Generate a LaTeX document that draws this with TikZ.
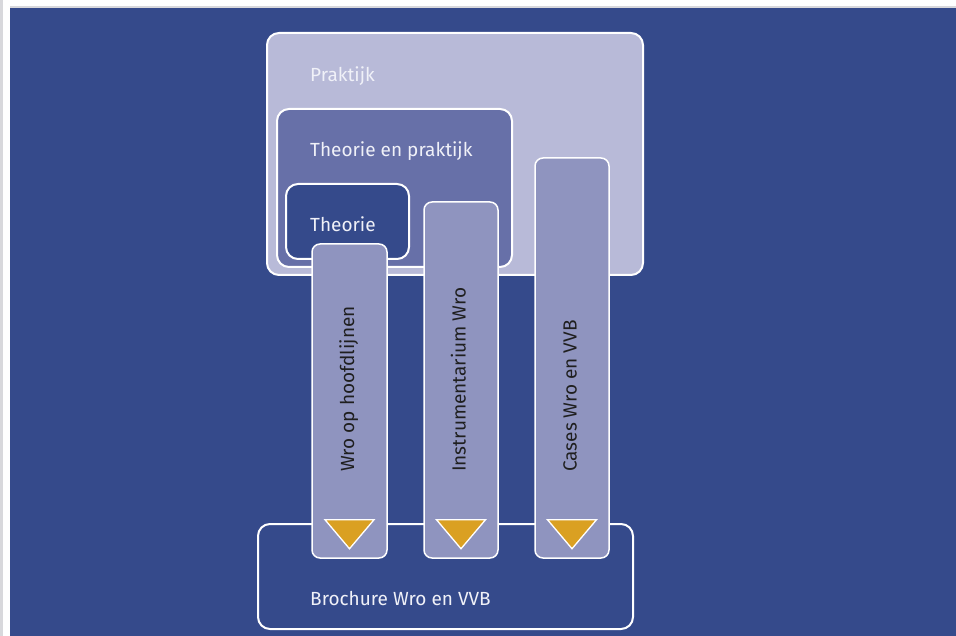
\documentclass[tikz,border=0pt]{standalone}
\usepackage{fontspec}
\setmainfont{Fira Sans}
\usetikzlibrary{calc}
\definecolor{bgblue}{HTML}{354A8B}
\definecolor{framegray}{HTML}{D8D8DC}
\definecolor{praktfill}{HTML}{B8BAD8}
\definecolor{tepfill}{HTML}{6770A8}
\definecolor{colfill}{HTML}{8F94BF}
\definecolor{gold}{HTML}{DAA022}
\definecolor{lblwhite}{HTML}{F0F1F8}
\begin{document}
\begin{tikzpicture}[x=1pt,y=-1pt,
  box/.style={rectangle, draw=white, line width=2pt, rounded corners=12pt, inner sep=0pt},
  colbox/.style={rectangle, draw=white, line width=1.5pt, fill=colfill, rounded corners=8pt, inner sep=0pt},
  lbl/.style={text=lblwhite, font=\fontsize{19}{22}\selectfont, anchor=base west, inner sep=0pt},
  coltext/.style={text=black!88, font=\fontsize{19}{22}\selectfont, rotate=90, anchor=base west, inner sep=0pt},
  tri/.style={draw=white, line width=1.3pt, fill=gold, line join=miter}]
\useasboundingbox (0,0) rectangle (956,636);
\fill[white] (0,0) rectangle (956,636);
\fill[framegray] (0,0) rectangle (3,636);
\fill[framegray] (10,6.5) rectangle (956,8);
\fill[bgblue] (10,8) rectangle (956,636);
% nested boxes
\node[box, fill=praktfill, minimum width=376pt, minimum height=242pt] (prak) at (455,154) {};
\node[lbl] (lprak) at (310,82) {Praktijk};
\node[box, fill=tepfill, minimum width=235pt, minimum height=158pt] (tep) at (394.5,188) {};
\node[lbl] (ltep) at (310,157) {Theorie en praktijk};
\node[box, fill=bgblue, minimum width=123pt, minimum height=75pt] (theo) at (347.5,221.5) {};
\node[lbl] (ltheo) at (310,232) {Theorie};
% brochure
\node[box, fill=bgblue, minimum width=375pt, minimum height=105pt] (broch) at (445.5,576.5) {};
\node[lbl] (lbroch) at (310,605) {Brochure Wro en VVB};
% columns
\node[colbox, minimum width=75pt, minimum height=314pt] (c1) at (349.5,401) {};
\node[colbox, minimum width=74pt, minimum height=356pt] (c2) at (461,380) {};
\node[colbox, minimum width=74pt, minimum height=400pt] (c3) at (572,358) {};
\node[coltext] (t1) at (354,472) {Wro op hoofdlijnen};
\node[coltext] (t2) at (465.5,472) {Instrumentarium Wro};
\node[coltext] (t3) at (576.5,472) {Cases Wro en VVB};
% triangles
\foreach \c in {c1,c2,c3}{
  \draw[tri] ($(\c.south)+(-24.5,-39)$) -- ++(49,0) -- ++(-24.5,29) -- cycle;
}
\end{tikzpicture}
\end{document}
